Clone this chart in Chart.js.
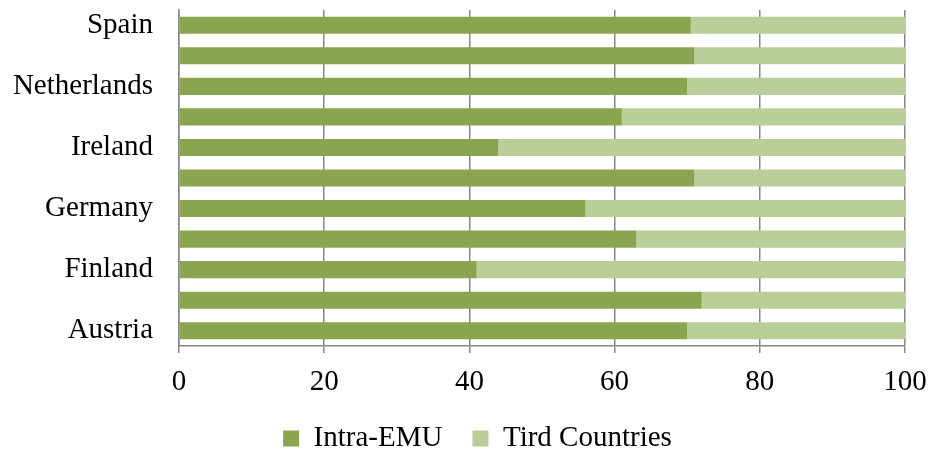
<!DOCTYPE html>
<html>
<head>
<meta charset="utf-8">
<script src="https://cdn.jsdelivr.net/npm/chart.js@4"></script>
<style>
  html, body { margin: 0; padding: 0; background: #fff; }
  #wrap { width: 932px; height: 454px; position: relative; }
</style>
</head>
<body>
<div id="wrap"><canvas id="chart"></canvas></div>
<script>
// ── Data (top to bottom as drawn) ─────────────────────────────────────────────
const countries = ['Spain', 'Portugal', 'Netherlands', 'Italy', 'Ireland', 'Greece',
                   'Germany', 'France', 'Finland', 'Belgium', 'Austria'];
const intraEmu  = [70.5, 71, 70, 61, 44, 71, 56, 63, 41, 72, 70];
const thirdCtry = [29.5, 29, 30, 39, 56, 29, 44, 37, 59, 28, 30];
const xTicks    = [0, 20, 40, 60, 80, 100];

const DARK  = '#8aa54f';
const LIGHT = '#b9ce98';
const GRID  = '#878787';
const FONT  = "'Liberation Serif', 'Times New Roman', serif";
const FSIZE = 29;

Chart.defaults.font.family = FONT;
Chart.defaults.color = '#000';

// nudge the legend into place after layout
const legendShift = {
    id: 'legendShift',
    afterLayout(chart) {
        const lg = chart.legend;
        if (!lg) return;
        lg.left += 25; lg.right += 25;
        lg.top -= 8;   lg.bottom -= 8;
    }
};

new Chart(document.getElementById('chart'), {
    type: 'bar',
    data: {
        labels: countries,
        datasets: [
            { label: 'Intra-EMU',      data: intraEmu,  backgroundColor: DARK,  borderWidth: 0 },
            { label: 'Tird Countries', data: thirdCtry, backgroundColor: LIGHT, borderWidth: 0 },
        ]
    },
    plugins: [legendShift],
    options: {
        indexAxis: 'y',
        responsive: true,
        maintainAspectRatio: false,
        animation: false,
        datasets: { bar: { categoryPercentage: 1, barPercentage: 0.56 } },
        layout: { padding: { top: 10, right: 27, bottom: -17, left: 0 } },
        plugins: {
            legend: {
                position: 'bottom',
                labels: { font: { size: FSIZE }, boxWidth: 16, boxHeight: 16, padding: 30, color: '#000' }
            },
            tooltip: { enabled: false }
        },
        scales: {
            x: {
                stacked: true,
                min: 0, max: 100,
                afterBuildTicks: s => { s.ticks = xTicks.map(v => ({ value: v })); },
                ticks: { font: { size: FSIZE }, color: '#000', padding: 12 },
                grid: { color: GRID, lineWidth: 1.5, tickLength: 7, drawTicks: true },
                border: { display: true, color: GRID, width: 1.5 },
                afterFit: s => { s.height = 56; s.paddingLeft = 0; s.paddingRight = 0; }
            },
            y: {
                stacked: true,
                ticks: {
                    autoSkip: false,
                    font: { size: FSIZE }, color: '#000', padding: 18,
                    callback: (v, i) => (i % 2 === 0 ? countries[i] : '')
                },
                grid: { display: false },
                border: { display: true, color: GRID, width: 1.5 },
                afterFit: s => { s.width = 179; s.paddingTop = 0; s.paddingBottom = 0; }
            }
        }
    }
});
</script>
</body>
</html>
